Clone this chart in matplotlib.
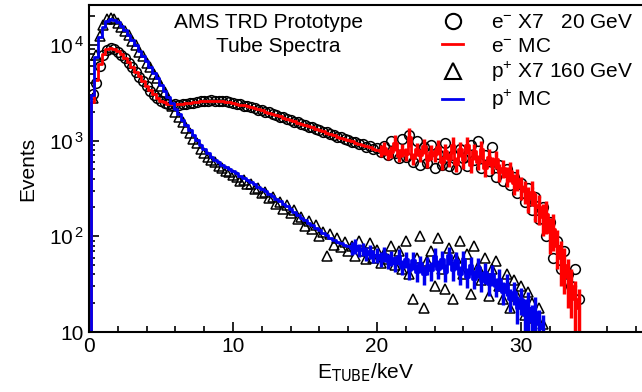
import numpy as np
import matplotlib.pyplot as plt
from matplotlib.lines import Line2D
from matplotlib.ticker import FixedLocator, FuncFormatter, LogLocator, MultipleLocator

plt.rcParams['font.family'] = ['Liberation Sans', 'DejaVu Sans']
plt.rcParams['mathtext.default'] = 'regular'

# bin width 0.25 keV
step = 0.25

# electron data (X7, 20 GeV), bins 0.25 .. 34.0 keV
e_data = [3100, 4000, 6000, 7800, 8900, 9200, 9000, 8500, 7900, 7200,
          6500, 5800, 5200, 4650, 4150, 3700, 3300, 3000, 2760, 2600,
          2480, 2420, 2380, 2400, 2380, 2420, 2430, 2480, 2490, 2550,
          2560, 2600, 2590, 2640, 2600, 2610, 2560, 2560, 2500, 2490,
          2420, 2390, 2320, 2290, 2220, 2180, 2110, 2080, 2000, 1970,
          1890, 1860, 1780, 1750, 1680, 1650, 1580, 1550, 1490, 1460,
          1400, 1380, 1320, 1300, 1240, 1220, 1160, 1150, 1090, 1080,
          1030, 1020, 970, 960, 910, 910, 860, 870, 810, 830,
          760, 880, 700, 1000, 740, 650, 1050, 680, 1150, 600,
          1000, 560, 860, 580, 900, 520, 720, 560, 950, 540,
          700, 500, 820, 660, 540, 900, 620, 1000, 520, 700,
          480, 860, 420, 560, 380, 500, 340, 420, 280, 360,
          230, 320, 190, 260, 150, 200, 100, 140, 60, 90,
          45, 70, 40, 30, 45, 22]

# electron MC, bins 0.0 .. 34.0 keV
e_mc = [5, 2500, 4300, 6300, 8000, 9000, 9300, 9100, 8600, 8000,
        7300, 6600, 5900, 5250, 4700, 4200, 3750, 3350, 3050, 2800,
        2620, 2500, 2430, 2400, 2390, 2400, 2410, 2440, 2470, 2500,
        2540, 2570, 2590, 2610, 2620, 2610, 2600, 2580, 2550, 2520,
        2480, 2430, 2380, 2330, 2280, 2230, 2170, 2120, 2070, 2010,
        1960, 1900, 1850, 1790, 1740, 1690, 1640, 1590, 1540, 1500,
        1450, 1410, 1370, 1330, 1290, 1250, 1210, 1175, 1140, 1100,
        1070, 1040, 1010, 980, 950, 925, 900, 875, 850, 825,
        800,
        780, 840, 720, 760, 950, 690, 800, 720, 1100, 650,
        820, 700, 880, 620, 760, 700, 860, 590, 780, 640,
        900, 570, 820, 620, 900, 560, 780, 600, 820, 520,
        680, 560, 640, 470, 520, 430, 480, 360, 400, 330,
        300, 250, 290, 210, 200, 160, 170, 110, 120, 80,
        60, 50, 38, 30, 22, 18]

# electron MC errors for bins 20.25 .. 34.0 keV
e_mc_err = [110, 130, 100, 110, 180, 100, 120, 110, 250, 100,
            130, 110, 160, 100, 130, 110, 160, 100, 140, 110,
            180, 100, 150, 110, 180, 100, 150, 110, 160, 100,
            130, 110, 130, 100, 110, 100, 110, 90, 100, 90,
            80, 75, 85, 70, 70, 60, 65, 45, 50, 35,
            30, 25, 20, 16, 12, 10]

# proton data (X7, 160 GeV), bins 0.25 .. 31.5 keV
p_data = [2800, 7800, 12500, 16000, 18500, 19000, 18500, 17000, 15500, 14000,
          12800, 11000, 10000, 8500, 7700, 6500, 5900, 5000, 4500, 3700,
          3200, 2700, 2300, 2000, 1750, 1550, 1350, 1200, 1050, 950,
          820, 750, 680, 620, 590, 540, 520, 480, 470, 440,
          420, 380, 390, 350, 350, 310, 320, 280, 290, 250,
          260, 215, 230, 195, 210, 175, 190, 150, 160, 128,
          145, 118, 130, 100, 112, 63, 105, 82, 95, 78,
          88, 70,
          80, 62, 90, 70, 58, 85, 60, 72, 52, 66,
          58, 80, 50, 70, 45, 90, 40, 22, 60, 100,
          18, 55, 70, 30, 95, 45, 28, 75, 22, 60,
          90, 40, 65, 25, 80, 48, 35, 60, 24, 45,
          55, 30, 22, 40, 18, 35, 24, 30, 15, 26,
          20, 14, 18, 12]

# proton MC, bins 0.0 .. 31.5 keV
p_mc = [5, 3000, 7500, 12000, 15500, 17800, 18600, 18300, 17300, 15900,
        14300, 12700, 11200, 9900, 8700, 7600, 6700, 5850, 5100, 4450,
        3850, 3300, 2850, 2450, 2150, 1880, 1650, 1450, 1280, 1140,
        1010, 900, 810, 740, 680, 630, 590, 560, 530, 505,
        480, 455, 430, 410, 390, 370, 350, 330, 312, 295,
        278, 262, 246, 232, 218, 205, 193, 180, 168, 157,
        147, 138, 130, 122, 115, 108, 102, 97, 92, 88,
        85, 82, 79,
        76, 80, 72, 74, 66, 70, 62, 64, 58, 66,
        55, 60, 52, 62, 48, 58, 44, 56, 42, 52,
        40, 50, 44, 62, 46, 58, 42, 64, 44, 56,
        40, 58, 38, 50, 36, 48, 34, 42, 32, 40,
        30, 36, 26, 32, 22, 26, 18, 22, 15, 18,
        13, 16, 12, 11]

# proton MC errors for bins 18.25 .. 31.5 keV
p_mc_err = [12, 14, 11, 12, 11, 12, 10, 11, 10, 12,
            10, 11, 10, 12, 9, 11, 9, 12, 9, 11,
            9, 11, 10, 14, 10, 13, 9, 14, 10, 12,
            9, 13, 9, 11, 8, 11, 8, 10, 8, 10,
            7, 9, 7, 8, 6, 7, 6, 7, 7, 8,
            6, 7, 5, 4]

e_data_x = step * np.arange(1, len(e_data) + 1)
e_mc_x = step * np.arange(len(e_mc))
p_data_x = step * np.arange(1, len(p_data) + 1)
p_mc_x = step * np.arange(len(p_mc))
e_tail_x = e_mc_x[-len(e_mc_err):]
p_tail_x = p_mc_x[-len(p_mc_err):]

fs = 15
fig = plt.figure(figsize=(6.42, 3.92), dpi=100)
ax = fig.add_axes([0.1386, 0.153, 0.8614, 0.834])

# data points
ax.plot(e_data_x, e_data, 'o', mfc='none', mec='black', ms=7, mew=1.1)
ax.plot(p_data_x, p_data, '^', mfc='none', mec='black', ms=7, mew=1.1)

# MC histograms with error bars in the tails
ax.plot(e_mc_x, e_mc, color='#ff0000', lw=2, drawstyle='steps-mid')
ax.errorbar(e_tail_x, e_mc[-len(e_mc_err):], yerr=e_mc_err, fmt='none',
            ecolor='#ff0000', elinewidth=2.5, capsize=0)
ax.plot(p_mc_x, p_mc, color='#0000ee', lw=2, drawstyle='steps-mid')
ax.errorbar(p_tail_x, p_mc[-len(p_mc_err):], yerr=p_mc_err, fmt='none',
            ecolor='#0000ee', elinewidth=2.5, capsize=0)

ax.set_yscale('log')
ax.set_xlim(0, 38.4)
ax.set_ylim(10, 26000)

ax.xaxis.set_major_locator(MultipleLocator(10))
ax.xaxis.set_minor_locator(MultipleLocator(2))
ax.yaxis.set_major_locator(FixedLocator([10, 100, 1000, 10000]))
ax.yaxis.set_minor_locator(LogLocator(base=10, subs=np.arange(2, 10)))


def ylab(v, pos):
    if v < 11:
        return '10'
    return r'10$^{\,%d}$' % round(np.log10(v))


ax.yaxis.set_major_formatter(FuncFormatter(ylab))
ax.tick_params(which='both', direction='in', top=False, right=False,
               labelsize=fs, width=1.2)
ax.tick_params(which='major', length=7)
ax.tick_params(which='minor', length=4)
ax.spines['right'].set_visible(False)
for s in ['left', 'bottom', 'top']:
    ax.spines[s].set_linewidth(1.5)

ax.set_xlabel(r'E$_{\rm TUBE}$/keV', fontsize=fs, labelpad=4)
ax.set_ylabel('Events', fontsize=fs, labelpad=8)

ax.text(0.324, 0.930, 'AMS TRD Prototype', transform=ax.transAxes,
        ha='center', va='baseline', fontsize=fs)
ax.text(0.342, 0.858, 'Tube Spectra', transform=ax.transAxes,
        ha='center', va='baseline', fontsize=fs)

handles = [
    Line2D([], [], ls='none', marker='o', mfc='none', mec='black', ms=11, mew=1.5),
    Line2D([], [], color='#ff0000', lw=2),
    Line2D([], [], ls='none', marker='^', mfc='none', mec='black', ms=11, mew=1.5),
    Line2D([], [], color='#0000ee', lw=2),
]
labels = [r'e$^{-}$ X7   20 GeV', r'e$^{-}$ MC', r'p$^{+}$ X7 160 GeV', r'p$^{+}$ MC']
ax.legend(handles, labels, loc='upper right', frameon=False, fontsize=fs,
          handlelength=1.0, handletextpad=1.35, labelspacing=0.2,
          borderpad=0.2, borderaxespad=0.2, bbox_to_anchor=(1.0, 1.0))

fig.savefig('out.png', dpi=100)
